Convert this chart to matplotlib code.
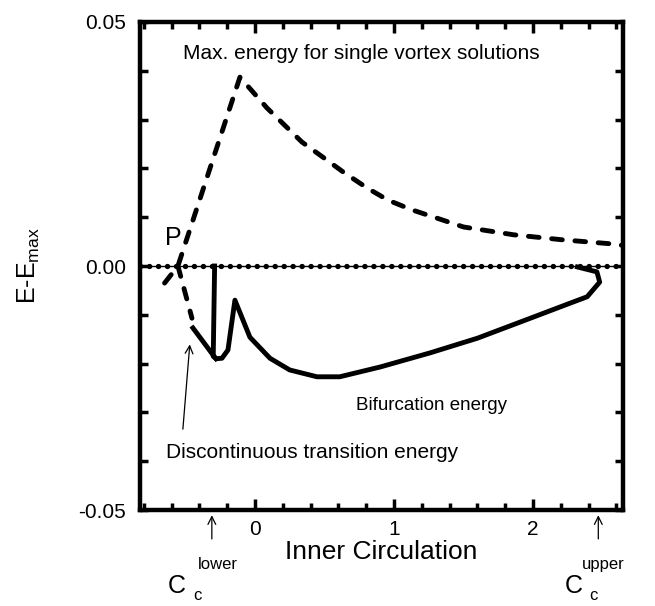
import matplotlib
matplotlib.use("Agg")
import matplotlib.pyplot as plt
from matplotlib.ticker import MultipleLocator

plt.rcParams['font.family'] = ['Liberation Sans', 'DejaVu Sans']

# max energy for single vortex solutions (dashed)
max_x = [-0.65, -0.554, -0.108, 0.086, 0.338, 0.518, 0.633, 0.806, 0.957,
         1.13, 1.31, 1.50, 1.86, 2.20, 2.58, 2.65]
max_y = [-0.0035, 0.0, 0.0387, 0.0324, 0.0254, 0.0217, 0.0193, 0.016, 0.0135,
         0.0115, 0.0098, 0.008, 0.0064, 0.0054, 0.0045, 0.0042]

# discontinuous transition energy (dashed, from P)
disc_x = [-0.554, -0.453]
disc_y = [0.0, -0.0107]

# bifurcation energy (solid)
branch_x = [-0.446, -0.302, -0.28]
branch_y = [-0.0127, -0.0182, -0.0190]
bif_x = [-0.29, -0.30, -0.28, -0.237, -0.194, -0.144, -0.036, 0.108, 0.25,
         0.446, 0.61, 0.9, 1.26, 1.60, 2.0, 2.25, 2.39, 2.48, 2.46, 2.32]
bif_y = [0.0, -0.0185, -0.0190, -0.0189, -0.0172, -0.007, -0.0146, -0.0189,
         -0.0213, -0.0227, -0.0227, -0.0207, -0.0178, -0.0148, -0.0105,
         -0.0078, -0.0063, -0.0033, -0.0012, -0.0002]

c_lower = -0.31
c_upper = 2.47

fig = plt.figure(figsize=(6.55, 6.06), dpi=100)
ax = fig.add_axes([0.2137, 0.1584, 0.7373, 0.8053])

# beaded zero line
ax.axhline(0, color='black', lw=1.0)
ax.axhline(0, color='black', lw=3.8, ls=(0, (0.05, 1.65)), dash_capstyle='round')

ax.plot(max_x, max_y, color='black', lw=3.5, ls=(0, (2.2, 2.6)),
        dash_capstyle='round')
ax.plot(disc_x, disc_y, color='black', lw=3.5, ls=(0, (2.2, 2.6)),
        dash_capstyle='round')
ax.plot(branch_x, branch_y, color='black', lw=3.5, solid_joinstyle='round')
ax.plot(bif_x, bif_y, color='black', lw=3.5, solid_joinstyle='round')

ax.set_xlim(-0.827, 2.647)
ax.set_ylim(-0.05, 0.05)
ax.set_yticks([-0.05, 0.0, 0.05])
ax.set_yticklabels(['-0.05', '0.00', '0.05'])
ax.set_xticks([0, 1, 2])
ax.xaxis.set_minor_locator(MultipleLocator(0.2))
ax.yaxis.set_minor_locator(MultipleLocator(0.01))
ax.tick_params(which='both', direction='in', top=True, right=True,
               width=2.5, labelsize=15, color='black')
ax.tick_params(axis='x', which='major', length=8, pad=7)
ax.tick_params(axis='x', which='minor', length=5)
ax.tick_params(axis='y', which='both', length=6, pad=10)
for s in ax.spines.values():
    s.set_linewidth(3.2)

ax.set_xlabel('Inner Circulation', fontsize=19, labelpad=1)
ax.set_ylabel(r'E-E$_{\mathregular{max}}$', fontsize=18, labelpad=26)

ax.text(-0.52, 0.0435, 'Max. energy for single vortex solutions',
        fontsize=15, va='center', ha='left')
ax.text(-0.59, 0.0057, 'P', fontsize=18, va='center', ha='center')
ax.text(0.73, -0.0285, 'Bifurcation energy', fontsize=13.5, va='center', ha='left')
ax.text(-0.64, -0.0383, 'Discontinuous transition energy', fontsize=15,
        va='center', ha='left')

ax.annotate('', xy=(-0.467, -0.0155), xytext=(-0.52, -0.0340),
            arrowprops=dict(arrowstyle='->', lw=0.9, color='black',
                            mutation_scale=14))

# critical circulation markers below the axis
for cx in (c_lower, c_upper):
    ax.annotate('', xy=(cx, -0.0505), xycoords='data',
                xytext=(cx, -0.0565), textcoords='data',
                arrowprops=dict(arrowstyle='->', lw=0.9, color='black',
                                mutation_scale=14), annotation_clip=False)

ax.text(c_lower - 0.25, -0.0655, 'C', fontsize=18, ha='center', va='center',
        clip_on=False)
ax.text(c_lower - 0.1, -0.0612, 'lower', fontsize=12, ha='left', va='center',
        clip_on=False)
ax.text(c_lower - 0.105, -0.0676, 'c', fontsize=12, ha='center', va='center',
        clip_on=False)
ax.text(c_upper - 0.18, -0.0655, 'C', fontsize=18, ha='center', va='center',
        clip_on=False)
ax.text(c_upper - 0.12, -0.0612, 'upper', fontsize=12, ha='left', va='center',
        clip_on=False)
ax.text(c_upper - 0.035, -0.0676, 'c', fontsize=12, ha='center', va='center',
        clip_on=False)

fig.savefig('out.png', dpi=100)
